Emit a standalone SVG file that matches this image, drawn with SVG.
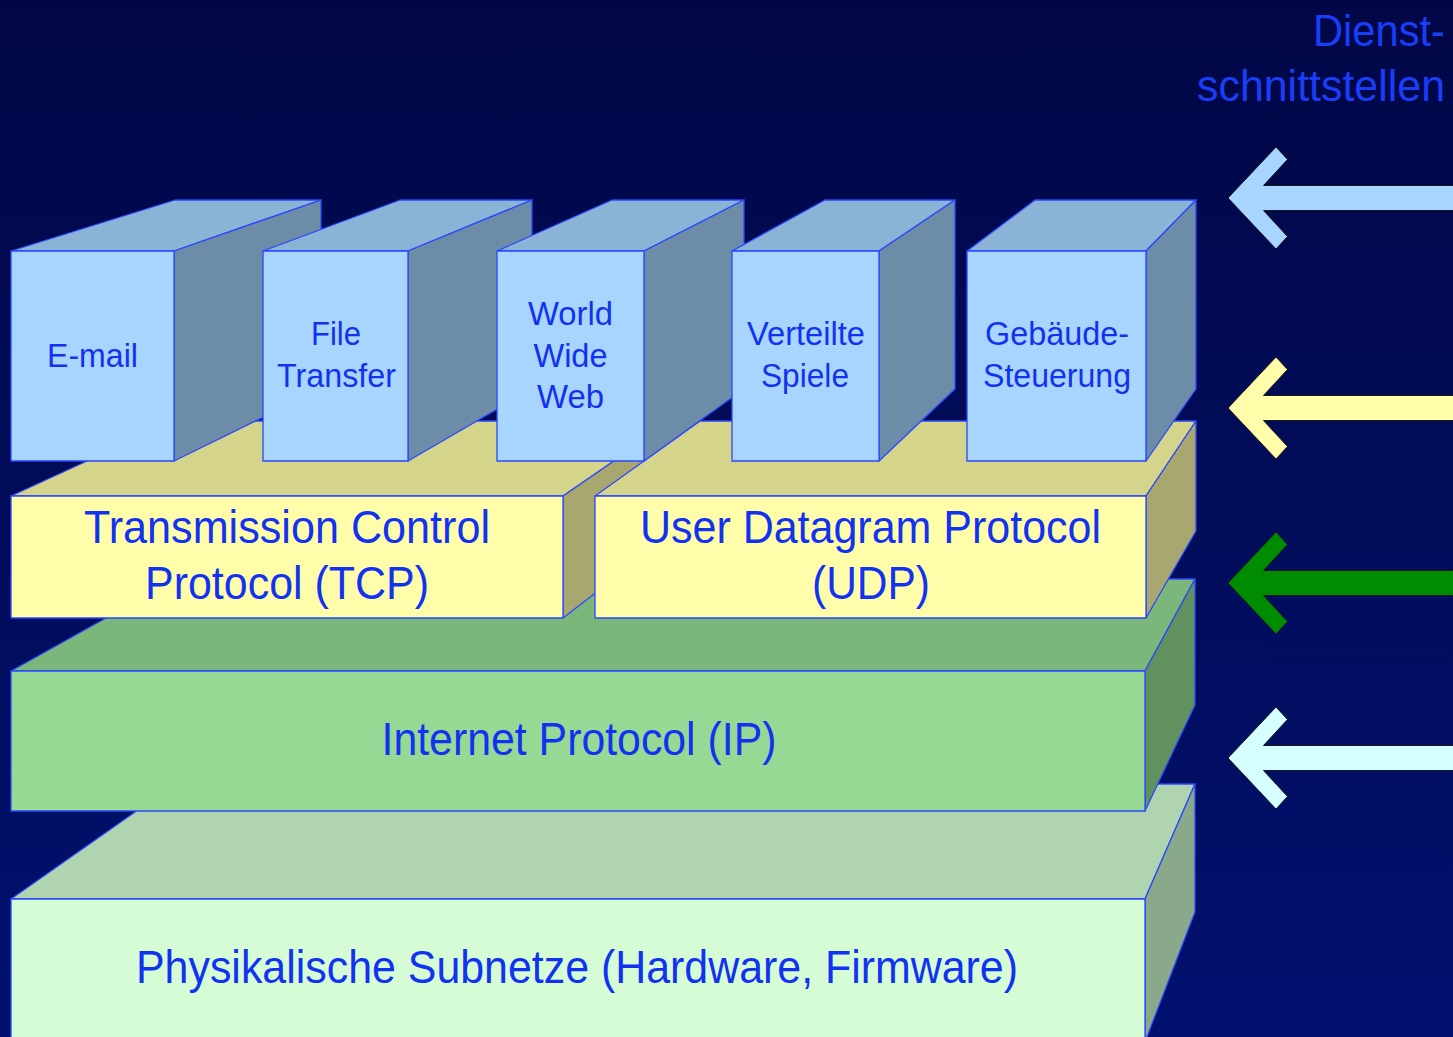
<svg xmlns="http://www.w3.org/2000/svg" width="1453" height="1037" viewBox="0 0 1453 1037">
  <defs>
    <linearGradient id="bg" x1="0" y1="0" x2="0" y2="1">
      <stop offset="0" stop-color="#010746"/>
      <stop offset="1" stop-color="#02116f"/>
    </linearGradient>
    <style>
      .e { stroke: #2a48ff; stroke-width: 1.3; stroke-linejoin: round; }
      .appF { fill: #a8d5fd; }
      .appT { fill: #8bb3d5; }
      .appS { fill: #6c8ca8; }
      .ylF { fill: #fffcaa; }
      .ylT { fill: #d4d48b; }
      .ylS { fill: #a8a76f; }
      .ipF { fill: #95d995; }
      .ipT { fill: #7bb67b; }
      .ipS { fill: #60915f; }
      .phF { fill: #d5fcd5; }
      .phT { fill: #b0d3b0; }
      .phS { fill: #8aa98a; }
      text { font-family: "Liberation Sans", Arial, sans-serif; fill: #1232f2; text-anchor: middle; }
      .app { font-size: 33px; }
      .prot { font-size: 46px; }
      .hdr { font-size: 44px; text-anchor: end; fill: #1a3ef8; }
      .arr { stroke: #1a1a1a; stroke-width: 1; stroke-linejoin: miter; }
    </style>
  </defs>

  <rect x="0" y="0" width="1453" height="1037" fill="url(#bg)"/>

  <g id="header">
    <text class="hdr" x="1445" y="46" textLength="132" lengthAdjust="spacingAndGlyphs">Dienst-</text>
    <text class="hdr" x="1445" y="101" textLength="248" lengthAdjust="spacingAndGlyphs">schnittstellen</text>
  </g>

  <g id="physical">
    <polygon class="e phT" points="11,899 175,784 1195,784 1145,899"/>
    <polygon class="e phS" points="1145,899 1195,784 1195,912 1145,1042"/>
    <rect class="e phF" x="11" y="899" width="1134" height="145"/>
    <text class="prot" x="577" y="983" textLength="882" lengthAdjust="spacingAndGlyphs">Physikalische Subnetze (Hardware, Firmware)</text>
  </g>

  <g id="ip">
    <polygon class="e ipT" points="11,671 176,579 1195,579 1145,671"/>
    <polygon class="e ipS" points="1145,671 1195,579 1195,705 1145,811"/>
    <rect class="e ipF" x="11" y="671" width="1134" height="140"/>
    <text class="prot" x="579" y="755" textLength="395" lengthAdjust="spacingAndGlyphs">Internet Protocol (IP)</text>
  </g>

  <g id="tcp">
    <polygon class="e ylT" points="11,496 174,421 672,421 563,496"/>
    <polygon class="e ylS" points="563,496 672,421 672,534 563,618"/>
    <rect class="e ylF" x="11" y="496" width="552" height="122"/>
    <text class="prot" x="287" y="543" textLength="406" lengthAdjust="spacingAndGlyphs">Transmission Control</text>
    <text class="prot" x="287" y="599" textLength="284" lengthAdjust="spacingAndGlyphs">Protocol (TCP)</text>
  </g>

  <g id="udp">
    <polygon class="e ylT" points="595,496 700,421 1196,421 1146,496"/>
    <polygon class="e ylS" points="1146,496 1196,421 1196,531 1146,618"/>
    <rect class="e ylF" x="595" y="496" width="551" height="122"/>
    <text class="prot" x="870.5" y="543" textLength="461" lengthAdjust="spacingAndGlyphs">User Datagram Protocol</text>
    <text class="prot" x="871" y="599" textLength="118" lengthAdjust="spacingAndGlyphs">(UDP)</text>
  </g>

  <g id="email">
    <polygon class="e appT" points="11,251 175,200 321,200 174,251"/>
    <polygon class="e appS" points="174,251 321,200 321,389 174,461"/>
    <rect class="e appF" x="11" y="251" width="163" height="210"/>
    <text class="app" x="92.5" y="367" textLength="91" lengthAdjust="spacingAndGlyphs">E-mail</text>
  </g>

  <g id="filetransfer">
    <polygon class="e appT" points="263,251 400,200 532,200 408,251"/>
    <polygon class="e appS" points="408,251 532,200 532,389 408,461"/>
    <rect class="e appF" x="263" y="251" width="145" height="210"/>
    <text class="app" x="336" y="345" textLength="50" lengthAdjust="spacingAndGlyphs">File</text>
    <text class="app" x="336.5" y="387" textLength="119" lengthAdjust="spacingAndGlyphs">Transfer</text>
  </g>

  <g id="www">
    <polygon class="e appT" points="497,251 612,200 744,200 644,251"/>
    <polygon class="e appS" points="644,251 744,200 744,389 644,461"/>
    <rect class="e appF" x="497" y="251" width="147" height="210"/>
    <text class="app" x="570.5" y="325" textLength="85" lengthAdjust="spacingAndGlyphs">World</text>
    <text class="app" x="570.5" y="367" textLength="74" lengthAdjust="spacingAndGlyphs">Wide</text>
    <text class="app" x="570.5" y="408" textLength="67" lengthAdjust="spacingAndGlyphs">Web</text>
  </g>

  <g id="spiele">
    <polygon class="e appT" points="732,251 825,200 955,200 879,251"/>
    <polygon class="e appS" points="879,251 955,200 955,389 879,461"/>
    <rect class="e appF" x="732" y="251" width="147" height="210"/>
    <text class="app" x="806" y="345" textLength="118" lengthAdjust="spacingAndGlyphs">Verteilte</text>
    <text class="app" x="805" y="387" textLength="88" lengthAdjust="spacingAndGlyphs">Spiele</text>
  </g>

  <g id="gebaeude">
    <polygon class="e appT" points="967,251 1035,200 1196,200 1146,251"/>
    <polygon class="e appS" points="1146,251 1196,200 1196,389 1146,461"/>
    <rect class="e appF" x="967" y="251" width="179" height="210"/>
    <text class="app" x="1057" y="345" textLength="144" lengthAdjust="spacingAndGlyphs">Gebäude-</text>
    <text class="app" x="1057" y="387" textLength="148" lengthAdjust="spacingAndGlyphs">Steuerung</text>
  </g>

  <g id="connectors">
    <polygon class="arr" fill="#a8d5fd" transform="translate(1228,198)" points="0,0 48,-51 59.5,-38.5 35.5,-12.5 232,-12.5 232,12.5 35.5,12.5 59.5,38.5 48,51"/>
    <polygon class="arr" fill="#fffcaa" transform="translate(1228,408)" points="0,0 48,-51 59.5,-38.5 35.5,-12.5 232,-12.5 232,12.5 35.5,12.5 59.5,38.5 48,51"/>
    <polygon class="arr" fill="#008c00" transform="translate(1228,583)" points="0,0 48,-51 59.5,-38.5 35.5,-12.5 232,-12.5 232,12.5 35.5,12.5 59.5,38.5 48,51"/>
    <polygon class="arr" fill="#d5fefe" transform="translate(1228,758)" points="0,0 48,-51 59.5,-38.5 35.5,-12.5 232,-12.5 232,12.5 35.5,12.5 59.5,38.5 48,51"/>
  </g>
</svg>
